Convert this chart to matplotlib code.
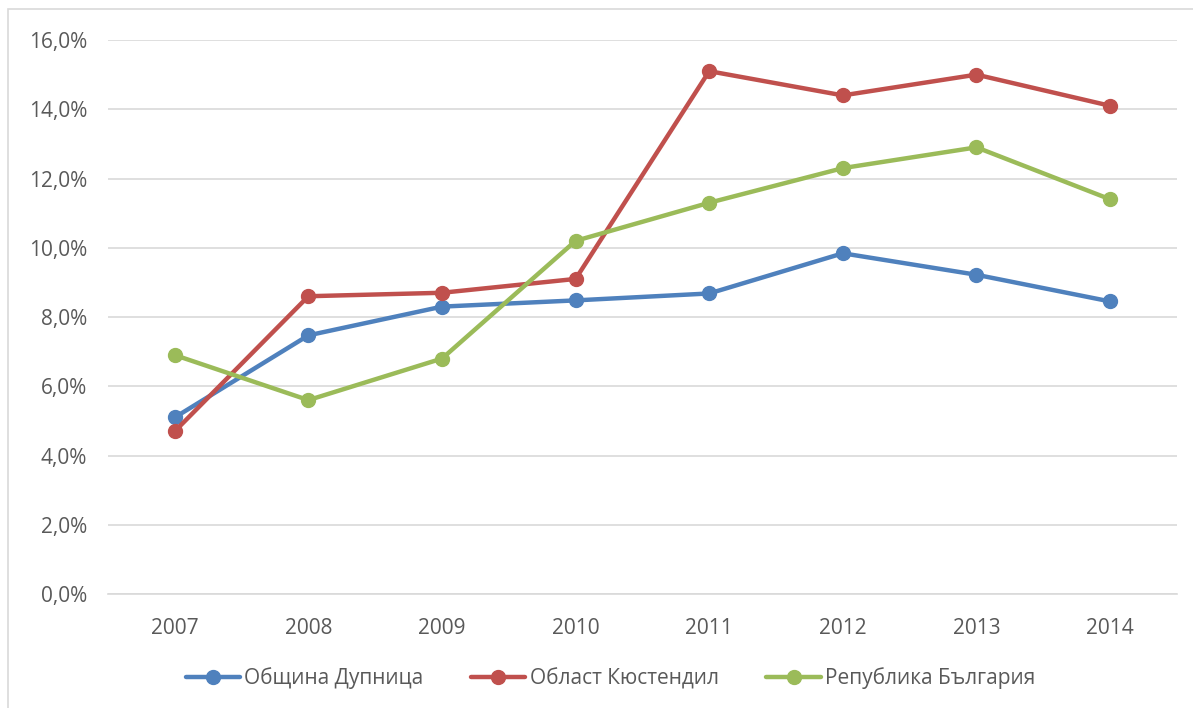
import matplotlib.pyplot as plt
from matplotlib.patches import Rectangle
from matplotlib.ticker import FuncFormatter

plt.rcParams['font.family'] = ['Open Sans', 'DejaVu Sans']

years = ['2007', '2008', '2009', '2010', '2011', '2012', '2013', '2014']
dupnitsa = [5.1, 7.47, 8.3, 8.48, 8.68, 9.84, 9.22, 8.45]
kyustendil = [4.7, 8.6, 8.7, 9.1, 15.1, 14.4, 15.0, 14.1]
bulgaria = [6.9, 5.6, 6.8, 10.2, 11.3, 12.3, 12.9, 11.4]

series = [
    ('Община Дупница', dupnitsa, '#4F81BD'),
    ('Област Кюстендил', kyustendil, '#C0504D'),
    ('Република България', bulgaria, '#9BBB59'),
]

fig = plt.figure(figsize=(11.93, 7.08), dpi=100)
ax = fig.add_axes([0.0905, 0.161, 0.896, 0.7825])

x = range(len(years))
for label, vals, color in series:
    ax.plot(x, vals, color=color, linewidth=3.2, marker='o', markersize=10,
            label=label, solid_capstyle='round')

ax.set_xlim(-0.5, len(years) - 0.5)
ax.set_ylim(0, 16)
ax.set_yticks(range(0, 17, 2))
ax.yaxis.set_major_formatter(FuncFormatter(lambda v, p: f'{v:.1f}%'.replace('.', ',')))
ax.set_xticks(list(x))
ax.set_xticklabels(years)
ax.grid(axis='y', color='#D9D9D9', linewidth=1.2)
ax.set_axisbelow(True)
for s in ['top', 'right', 'left']:
    ax.spines[s].set_visible(False)
ax.spines['bottom'].set_color('#D9D9D9')
ax.spines['bottom'].set_linewidth(1.2)
ax.tick_params(axis='both', length=0, labelsize=15, colors='#595959')
ax.tick_params(axis='x', pad=17)
ax.tick_params(axis='y', pad=15)

# legend sits a bit left of the plot centre, like the original
ax.legend(loc='upper center', bbox_to_anchor=(0.47, -0.099), ncol=3, frameon=False,
          fontsize=15, labelcolor='#595959', handlelength=2.6, handletextpad=0.2,
          columnspacing=2.3)

fig.patches.append(Rectangle((0.007, -0.01), 1.0, 0.997, transform=fig.transFigure,
                             fill=False, edgecolor='#D9D9D9', linewidth=1.2))

fig.savefig('out.png', dpi=100)
